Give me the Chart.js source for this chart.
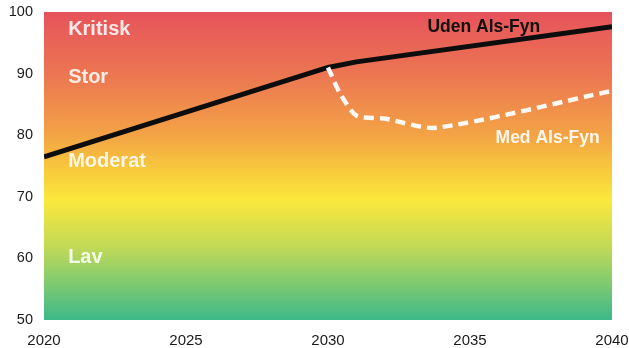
<!DOCTYPE html>
<html>
<head>
<meta charset="utf-8">
<script src="https://cdn.jsdelivr.net/npm/chart.js@4/dist/chart.umd.min.js"></script>
<style>
  html, body { margin: 0; padding: 0; background: #ffffff; }
  #wrap { width: 629px; height: 348px; position: relative; }
</style>
</head>
<body>
<div id="wrap"><canvas id="chart"></canvas></div>
<script>
// Years and index values for the two scenarios
const udenYears  = [2020, 2030, 2031, 2040];
const udenValues = [76.5, 91.0, 91.9, 97.6];

const medYears  = [2030, 2030.4, 2031, 2032, 2033.8, 2040];
const medValues = [91.0, 87.0, 83.2, 82.7, 81.2, 87.2];

const xTicks = [2020, 2025, 2030, 2035, 2040];
const yTicks = [50, 60, 70, 80, 90, 100];

const zoneNames = ['Kritisk', 'Stor', 'Moderat', 'Lav'];
const seriesNames = ['Uden Als-Fyn', 'Med Als-Fyn'];

const toPoints = (xs, ys) => xs.map((x, i) => ({ x: x, y: ys[i] }));

// Red-to-green background filling the plot area
const backgroundPlugin = {
  id: 'zoneBackground',
  beforeDatasetsDraw(chart) {
    const { ctx, chartArea: a } = chart;
    const g = ctx.createLinearGradient(0, a.top, 0, a.bottom);
    g.addColorStop(0.00, '#e6535b');
    g.addColorStop(0.20, '#ec7552');
    g.addColorStop(0.40, '#f3a345');
    g.addColorStop(0.52, '#f8cc3b');
    g.addColorStop(0.61, '#fbe83c');
    g.addColorStop(0.76, '#c3da56');
    g.addColorStop(1.00, '#3cb98a');
    ctx.save();
    ctx.fillStyle = g;
    ctx.fillRect(a.left, a.top, a.right - a.left, a.bottom - a.top);

    // zone names
    const xs = chart.scales.x, ys = chart.scales.y;
    const zoneY = [97.1, 89.4, 75.7, 60.1];
    ctx.fillStyle = 'rgba(255,255,255,0.86)';
    ctx.font = 'bold 20px "Liberation Sans", Arial, sans-serif';
    ctx.textAlign = 'left';
    ctx.textBaseline = 'middle';
    zoneNames.forEach((n, i) => {
      ctx.fillText(n, xs.getPixelForValue(2020.85), ys.getPixelForValue(zoneY[i]));
    });
    ctx.restore();
  }
};

// Names written next to each line
const seriesLabelPlugin = {
  id: 'seriesLabels',
  afterDatasetsDraw(chart) {
    const { ctx } = chart;
    const xs = chart.scales.x, ys = chart.scales.y;
    ctx.save();
    ctx.font = 'bold 17.5px "Liberation Sans", Arial, sans-serif';
    ctx.textAlign = 'left';
    ctx.textBaseline = 'middle';
    ctx.fillStyle = '#111111';
    ctx.fillText(seriesNames[0], xs.getPixelForValue(2033.5), ys.getPixelForValue(97.6));
    ctx.fillStyle = 'rgba(255,255,255,0.9)';
    ctx.fillText(seriesNames[1], xs.getPixelForValue(2035.9), ys.getPixelForValue(79.5));
    ctx.restore();
  }
};

new Chart(document.getElementById('chart'), {
  type: 'line',
  data: {
    datasets: [
      {
        label: seriesNames[1],
        data: toPoints(medYears, medValues),
        borderColor: 'rgba(255,255,255,0.95)',
        borderWidth: 4.5,
        borderDash: [10, 6],
        pointRadius: 0,
        tension: 0.25,
        fill: false
      },
      {
        label: seriesNames[0],
        data: toPoints(udenYears, udenValues),
        borderColor: '#0d0d0d',
        borderWidth: 5,
        pointRadius: 0,
        tension: 0,
        fill: false
      }
    ]
  },
  options: {
    responsive: true,
    maintainAspectRatio: false,
    animation: false,
    layout: { padding: { top: 12, right: 17, bottom: 0, left: 0 } },
    plugins: { legend: { display: false }, tooltip: { enabled: false } },
    scales: {
      x: {
        type: 'linear',
        min: 2020, max: 2040,
        afterBuildTicks: s => { s.ticks = xTicks.map(v => ({ value: v })); },
        afterFit: s => { s.height = 28; s.paddingLeft = 0; s.paddingRight = 0; },
        grid: { display: false, drawTicks: false },
        border: { display: false },
        ticks: {
          padding: 12,
          color: '#1a1a1a',
          font: { family: '"Liberation Sans", Arial, sans-serif', size: 15 },
          callback: v => String(v),
          maxRotation: 0,
          autoSkip: false
        }
      },
      y: {
        min: 50, max: 100,
        afterBuildTicks: s => { s.ticks = yTicks.map(v => ({ value: v })); },
        afterFit: s => { s.width = 44; s.paddingTop = 0; s.paddingBottom = 0; },
        grid: { display: false, drawTicks: false },
        border: { display: false },
        ticks: {
          padding: 11,
          color: '#1a1a1a',
          font: { family: '"Liberation Sans", Arial, sans-serif', size: 14.5 },
          callback: v => String(v)
        }
      }
    }
  },
  plugins: [backgroundPlugin, seriesLabelPlugin]
});
</script>
</body>
</html>
